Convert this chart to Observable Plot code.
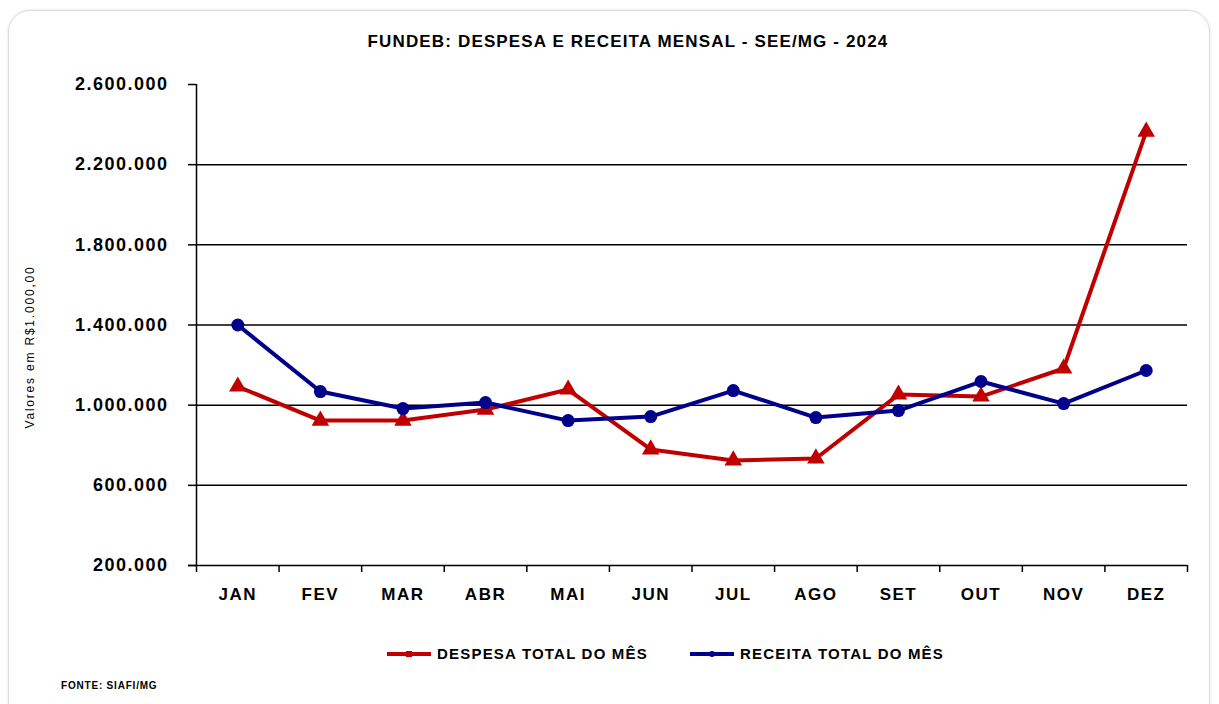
<!DOCTYPE html>
<html>
<head>
<meta charset="utf-8">
<script src="https://cdn.jsdelivr.net/npm/d3@7"></script>
<script src="https://cdn.jsdelivr.net/npm/@observablehq/plot@0.6"></script>
<style>
  html, body { margin:0; padding:0; background:#fff; width:1219px; height:704px; overflow:hidden; }
  body { position:relative; font-family:"Liberation Sans",Arial,sans-serif; font-weight:bold; color:#000; }
  .card { position:absolute; left:8px; top:10px; width:1200px; height:730px; border:1px solid #dcdcdc; border-radius:22px; box-shadow:0 0 3px rgba(0,0,0,0.12); }
  .title { position:absolute; left:0; width:1256px; top:32px; text-align:center; font-size:17px; letter-spacing:1.15px; }
  #chart { position:absolute; left:0; top:0; }
  .legend { position:absolute; top:645px; font-size:15px; letter-spacing:1.2px; display:flex; align-items:center; }
  .legend svg { margin-right:6px; }
  .fonte { position:absolute; left:61px; top:680px; font-size:10px; letter-spacing:0.8px; }
</style>
</head>
<body>
<div class="card"></div>
<div id="chart"></div>
<div class="title">FUNDEB: DESPESA E RECEITA MENSAL - SEE/MG - 2024</div>
<div class="legend" style="left:387px"><svg width="44" height="10"><line x1="0" y1="5" x2="44" y2="5" stroke="#C00000" stroke-width="4"/><rect x="19" y="2" width="6" height="6" fill="#C00000"/></svg>DESPESA TOTAL DO MÊS</div>
<div class="legend" style="left:690px"><svg width="44" height="10"><line x1="0" y1="5" x2="44" y2="5" stroke="#00008B" stroke-width="4"/><circle cx="22" cy="5" r="3" fill="#00008B"/></svg>RECEITA TOTAL DO MÊS</div>
<div class="fonte">FONTE: SIAFI/MG</div>
<script>
const months = ["JAN","FEV","MAR","ABR","MAI","JUN","JUL","AGO","SET","OUT","NOV","DEZ"];
const despesa = [1093000, 923000, 923000, 978000, 1078000, 779000, 724000, 734000, 1053000, 1043000, 1183000, 2365000];
const receita = [1400000, 1068000, 983000, 1013000, 923000, 943000, 1073000, 938000, 973000, 1118000, 1008000, 1173000];
const yTicks = [200000, 600000, 1000000, 1400000, 1800000, 2200000, 2600000];
const gridTicks = [600000, 1000000, 1400000, 1800000, 2200000];
const yLabel = "Valores em R$1.000,00";

const data = months.map((m, i) => ({m, despesa: despesa[i], receita: receita[i]}));
const fmt = d => d3.format(",")(d).replace(/,/g, ".");

const W = 1219, H = 620, ML = 196, MR = 32, MT = 84, MB = 55;
const bw = (W - ML - MR) / months.length;
const plotH = H - MT - MB;

const chart = Plot.plot({
  width: W, height: H,
  marginLeft: ML, marginRight: MR, marginTop: MT, marginBottom: MB,
  x: {type: "band", domain: months, padding: 0, round: false},
  y: {domain: [200000, 2600000]},
  style: {fontFamily: '"Liberation Sans",Arial,sans-serif', fontWeight: "bold", background: "transparent", overflow: "visible", color: "#000"},
  marks: [
    Plot.gridY(gridTicks, {stroke: "#000", strokeOpacity: 1, strokeWidth: 1.5}),
    Plot.ruleY([200000], {stroke: "#000", strokeWidth: 1.5, insetLeft: -8}),
    Plot.axisY(yTicks, {tickSize: 8, tickPadding: 20, tickFormat: fmt, fontSize: 18, label: null, strokeWidth: 1.5}),
    Plot.axisX({tickSize: 0, tickPadding: 22, fontSize: 17, label: null}),
    Plot.ruleX(["JAN"], {dx: -bw / 2, insetBottom: -7, stroke: "#000", strokeWidth: 1.5}),
    Plot.ruleX(months, {dx: bw / 2, insetTop: plotH, insetBottom: -7, stroke: "#000", strokeWidth: 1.5}),
    Plot.text([yLabel], {frameAnchor: "left", rotate: -90, dx: -166, dy: 22, textAnchor: "middle", fontSize: 12, fontWeight: "normal", text: d => d}),
    Plot.line(data, {x: "m", y: "despesa", stroke: "#C00000", strokeWidth: 4}),
    Plot.line(data, {x: "m", y: "receita", stroke: "#00008B", strokeWidth: 4}),
    Plot.dot(data, {x: "m", y: "despesa", symbol: "triangle", r: 6.5, fill: "#C00000"}),
    Plot.dot(data, {x: "m", y: "receita", symbol: "circle", r: 6.5, fill: "#00008B"})
  ]
});
const sel = d3.select(chart);
sel.selectAll("g[aria-label='y-axis tick label'] text").style("letter-spacing", "1.5px");
sel.selectAll("g[aria-label='x-axis tick label'] text").style("letter-spacing", "1.5px");
sel.selectAll("g[aria-label='text'] text").style("letter-spacing", "1.8px");
document.getElementById("chart").appendChild(chart);
</script>
</body>
</html>
